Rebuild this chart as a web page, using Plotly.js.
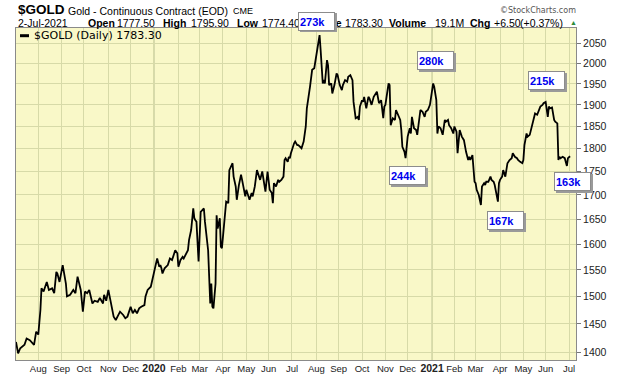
<!DOCTYPE html>
<html><head><meta charset="utf-8">
<script src="https://cdn.plot.ly/plotly-3.0.1.min.js"></script>
<style>html,body{margin:0;padding:0;background:#fff}#chart{width:620px;height:376px}</style>
</head><body><div id="chart"></div>
<script>
const dates = [
'2019-07-03','2019-07-05','2019-07-09','2019-07-11','2019-07-15','2019-07-17','2019-07-22','2019-07-26','2019-07-30',
'2019-08-01','2019-08-05','2019-08-06','2019-08-08','2019-08-09','2019-08-13','2019-08-15','2019-08-20','2019-08-22','2019-08-26','2019-08-27','2019-08-29',
'2019-09-03','2019-09-06','2019-09-09','2019-09-12','2019-09-16','2019-09-17','2019-09-19','2019-09-23','2019-09-26','2019-09-30',
'2019-10-02','2019-10-04','2019-10-08','2019-10-11','2019-10-15','2019-10-18','2019-10-22','2019-10-25','2019-10-28','2019-10-30',
'2019-11-01','2019-11-05','2019-11-07','2019-11-08','2019-11-12','2019-11-15','2019-11-18','2019-11-21','2019-11-25','2019-11-27','2019-11-29',
'2019-12-02','2019-12-04','2019-12-06','2019-12-10','2019-12-12','2019-12-16','2019-12-19','2019-12-20','2019-12-24','2019-12-27','2019-12-30',
'2020-01-03','2020-01-06','2020-01-08','2020-01-09','2020-01-10','2020-01-13','2020-01-15','2020-01-17','2020-01-20','2020-01-22','2020-01-24','2020-01-27','2020-01-29','2020-01-31',
'2020-02-03','2020-02-05','2020-02-07','2020-02-10','2020-02-12','2020-02-14','2020-02-17','2020-02-19','2020-02-21','2020-02-24','2020-02-25','2020-02-26','2020-02-28',
'2020-03-02','2020-03-03','2020-03-06','2020-03-09','2020-03-12','2020-03-13','2020-03-16','2020-03-17','2020-03-18','2020-03-19','2020-03-23','2020-03-24','2020-03-25','2020-03-27','2020-03-30','2020-03-31',
'2020-04-02','2020-04-06','2020-04-08','2020-04-09','2020-04-14','2020-04-15','2020-04-17','2020-04-20','2020-04-22','2020-04-24','2020-04-27','2020-04-28','2020-04-30',
'2020-05-01','2020-05-04','2020-05-06','2020-05-08','2020-05-11','2020-05-13','2020-05-15','2020-05-18','2020-05-20','2020-05-22','2020-05-26','2020-05-27','2020-05-29',
'2020-06-01','2020-06-02','2020-06-04','2020-06-05','2020-06-08','2020-06-10','2020-06-12','2020-06-15','2020-06-17','2020-06-19','2020-06-22','2020-06-23','2020-06-25','2020-06-26','2020-06-29','2020-06-30',
'2020-07-03','2020-07-06','2020-07-08','2020-07-09','2020-07-14','2020-07-16','2020-07-20','2020-07-21','2020-07-24','2020-07-28','2020-07-30',
'2020-08-04','2020-08-06','2020-08-07','2020-08-11','2020-08-12','2020-08-13','2020-08-17','2020-08-18','2020-08-19','2020-08-21','2020-08-24','2020-08-26','2020-08-28','2020-08-31',
'2020-09-02','2020-09-04','2020-09-07','2020-09-09','2020-09-11','2020-09-14','2020-09-16','2020-09-18','2020-09-21','2020-09-23','2020-09-25','2020-09-28','2020-09-29',
'2020-10-01','2020-10-02','2020-10-05','2020-10-07','2020-10-09','2020-10-12','2020-10-14','2020-10-16','2020-10-19','2020-10-21','2020-10-23','2020-10-26','2020-10-27','2020-10-29','2020-10-30',
'2020-11-02','2020-11-05','2020-11-06','2020-11-09','2020-11-11','2020-11-13','2020-11-16','2020-11-18','2020-11-20','2020-11-23','2020-11-24','2020-11-26','2020-11-27',
'2020-12-01','2020-12-02','2020-12-03','2020-12-04','2020-12-07','2020-12-09','2020-12-11','2020-12-14','2020-12-16','2020-12-17','2020-12-21','2020-12-23','2020-12-24','2020-12-28','2020-12-30',
'2021-01-04','2021-01-05','2021-01-07','2021-01-08','2021-01-11','2021-01-13','2021-01-15','2021-01-19','2021-01-20','2021-01-22','2021-01-25','2021-01-27','2021-01-29',
'2021-02-01','2021-02-03','2021-02-04','2021-02-08','2021-02-10','2021-02-12','2021-02-16','2021-02-18','2021-02-19','2021-02-22','2021-02-24','2021-02-25','2021-02-26',
'2021-03-01','2021-03-02','2021-03-04','2021-03-08','2021-03-09','2021-03-11','2021-03-12','2021-03-15','2021-03-17','2021-03-19','2021-03-22','2021-03-24','2021-03-25','2021-03-30','2021-03-31',
'2021-04-01','2021-04-05','2021-04-06','2021-04-08','2021-04-09','2021-04-12','2021-04-14','2021-04-16','2021-04-19','2021-04-21','2021-04-23','2021-04-26','2021-04-28','2021-04-30',
'2021-05-03','2021-05-04','2021-05-06','2021-05-07','2021-05-11','2021-05-13','2021-05-17','2021-05-18','2021-05-20','2021-05-24','2021-05-25','2021-05-27','2021-05-28',
'2021-06-01','2021-06-03','2021-06-04','2021-06-07','2021-06-09','2021-06-11','2021-06-14','2021-06-16','2021-06-17','2021-06-18','2021-06-21','2021-06-23','2021-06-25','2021-06-29','2021-06-30',
'2021-07-02'
];
const closes = [
1418,1398,1407,1410,1413,1424,1421,1413,1436,
1431,1475,1515,1509,1515,1527,1512,1515,1506,1546,1543,1527,
1559,1524,1500,1503,1509,1512,1506,1537,1512,1472,
1509,1506,1512,1487,1492,1490,1497,1487,1503,1492,
1512,1490,1475,1463,1457,1469,1472,1466,1460,1463,1478,
1481,1469,1475,1469,1478,1481,1484,1500,1512,1518,1528,
1563,1572,1556,1559,1553,1543,1553,1556,1559,1572,1569,1575,1588,1582,
1556,1569,1575,1572,1579,1588,1608,1628,1672,1652,1648,1645,1566,
1635,1665,1672,1645,1588,1512,1487,1524,1481,1478,1524,1658,1631,1652,1595,1592,
1635,1686,1683,1753,1768,1739,1718,1690,1721,1743,1732,1721,1697,
1711,1704,1690,1704,1697,1718,1753,1746,1732,1750,1725,1707,1750,
1732,1711,1704,1683,1725,1718,1732,1728,1732,1739,1775,1779,1771,1782,1779,1790,
1812,1816,1808,1808,1801,1816,1850,1892,1943,1984,1988,
2033,2071,2033,1951,1959,1951,2008,1995,1947,1951,1927,1947,1975,1971,
1947,1935,1947,1959,1955,1967,1971,1959,1907,1869,1872,1865,1896,
1911,1907,1919,1892,1919,1915,1900,1919,1923,1931,1904,1907,1911,1869,1896,
1900,1951,1947,1853,1869,1865,1888,1877,1865,1842,1804,1793,1779,
1827,1838,1846,1834,1872,1846,1842,1831,1865,1888,1884,1872,1884,1888,1900,
1951,1943,1911,1834,1850,1846,1831,1865,1861,1865,1853,1846,1834,
1850,1838,1790,1842,1827,1819,1793,1775,1782,1775,1786,1760,1728,
1725,1711,1700,1679,1718,1725,1721,1728,1728,1739,1732,1728,1721,1686,1725,
1732,1739,1753,1739,1750,1768,1775,1779,1790,1782,1779,1775,1771,1768,
1775,1808,1834,1827,1831,1850,1869,1880,1877,1888,1896,1900,1904,
1907,1872,1896,1892,1894,1865,1861,1857,1775,1782,1779,1782,1779,1762,1779,
1783.30
];
const monthTicks = ['2019-08-01','2019-09-02','2019-10-01','2019-11-01','2019-12-02','2020-01-01','2020-02-03','2020-03-02','2020-04-01','2020-05-01','2020-06-01','2020-07-01','2020-08-03','2020-09-01','2020-10-01','2020-11-02','2020-12-01','2021-01-01','2021-02-01','2021-03-01','2021-04-01','2021-05-03','2021-06-01','2021-07-01'];
const monthLabels = ['Aug','Sep','Oct','Nov','Dec','2020','Feb','Mar','Apr','May','Jun','Jul','Aug','Sep','Oct','Nov','Dec','2021','Feb','Mar','Apr','May','Jun','Jul'];
const yearLines = ['2020-01-01','2021-01-01'];
const priceTicks = [1400,1450,1500,1550,1600,1650,1700,1750,1800,1850,1900,1950,2000,2050];
const volumeLabels = ['273k','280k','244k','215k','167k','163k'];

// layout geometry (pixels)
const L=16, T=28, W=560, H=332;
const X = p => (p-L)/W, Y = p => (T+H-p)/H;
const volBoxes = [[297.7,11.5],[417.3,50.7],[389.3,165.7],[528.3,70.7],[487.3,210.7],[554.3,171.7]];

const SANS = 'Liberation Sans, Arial, sans-serif';
const DV = 'DejaVu Sans, Verdana, sans-serif';
function txt(px, py, text, size, opts) {
  opts = opts || {};
  return {xref:'paper', yref:'paper', x:X(px), y:Y(py), xanchor:opts.anchor||'left', yanchor:'middle',
    text:text, showarrow:false, font:{family:opts.family||SANS, size:size, color:opts.color||'#000'}};
}
const ann = [
  txt(16, 9.8, '<b>$GOLD</b>', 13.5),
  txt(65.6, 10.8, 'Gold - Continuous Contract (EOD)', 10.5),
  txt(230.5, 10.8, 'CME', 9),
  txt(578, 10.5, '©StockCharts.com', 8, {anchor:'right', family:DV, color:'#555'}),
  txt(16, 22.8, '2-Jul-2021', 10.5),
  txt(86, 22.8, '<b>Open</b>', 10.5),
  txt(115, 22.8, '1777.50', 10.5),
  txt(161, 22.8, '<b>High</b>', 10.5),
  txt(189, 22.8, '1795.90', 10.5),
  txt(235, 22.8, '<b>Low</b>', 10.5),
  txt(260, 22.8, '1774.40', 10.5),
  txt(311, 22.8, '<b>Close</b>', 10.5),
  txt(343, 22.8, '1783.30', 10.5),
  txt(386.7, 22.8, '<b>Volume</b>', 10.5),
  txt(433, 22.8, '19.1M', 10.5),
  txt(468, 22.8, '<b>Chg</b>', 10.5),
  txt(492, 22.8, '+6.50', 10.5),
  txt(518, 22.8, '(+0.37%)', 10.5),
  txt(568, 22.3, '▲', 7, {color:'#2e8b3a'}),
  txt(31.7, 35.7, '$GOLD (Daily) 1783.30', 11, {family:DV})
];
volumeLabels.forEach((lab, i) => {
  const [bx, by] = volBoxes[i];
  ann.push({xref:'paper', yref:'paper', x:X(bx+2), y:Y(by+2), xanchor:'left', yanchor:'top', text:' ',
    showarrow:false, width:35, height:17, borderpad:0, borderwidth:1, bordercolor:'#9a9a9a', bgcolor:'#9a9a9a'});
  ann.push({xref:'paper', yref:'paper', x:X(bx), y:Y(by), xanchor:'left', yanchor:'top', text:'<b>'+lab+'</b>',
    showarrow:false, width:33, height:15, align:'left', valign:'middle', borderpad:1, borderwidth:1,
    bordercolor:'#8c8c8c', bgcolor:'#ffffff', font:{family:SANS, size:11, color:'#0000ee'}});
});

const shapes = yearLines.map(d => ({type:'line', xref:'x', yref:'paper', x0:d, x1:d, y0:0, y1:1, layer:'below',
  line:{color:'#b4bb8c', width:1}}));
shapes.push({type:'line', xref:'paper', yref:'paper', x0:X(20), x1:X(29), y0:Y(35.7), y1:Y(35.7), line:{color:'#000', width:3}});

const ticktext = monthLabels.map(m => /^\d{4}$/.test(m) ? '<b><span style="font-size:10.5px">'+m+'</span></b>' : m);

const trace = {type:'scatter', mode:'lines', x:dates, y:closes, line:{color:'#000', width:1.8}, hoverinfo:'skip'};

const layout = {
  width:620, height:376,
  margin:{l:L, r:620-L-W, t:T, b:376-T-H, pad:0},
  paper_bgcolor:'#ffffff', plot_bgcolor:'#f9f8c8',
  showlegend:false,
  font:{family:SANS, size:10, color:'#222'},
  xaxis:{type:'date', range:['2019-07-03','2021-07-09 14:00'], rangebreaks:[{bounds:['sat','mon']}],
    tickmode:'array', tickvals:monthTicks, ticktext:ticktext, showgrid:true, gridcolor:'#d7daa8', gridwidth:1,
    ticks:'', tickfont:{size:9.5, color:'#222'}, showline:true, linecolor:'#8a8a8a', linewidth:1, mirror:true, zeroline:false},
  yaxis:{type:'log', side:'right', range:[3.1420, 3.31996], tickmode:'array', tickvals:priceTicks, ticktext:priceTicks.map(String),
    showgrid:true, gridcolor:'#d7daa8', ticks:'outside', ticklen:4, tickcolor:'#777', tickfont:{size:10.5, color:'#222'},
    showline:true, linecolor:'#8a8a8a', linewidth:1, mirror:true, zeroline:false},
  shapes:shapes, annotations:ann
};
Plotly.newPlot('chart', [trace], layout, {staticPlot:true, displayModeBar:false});
</script></body></html>
